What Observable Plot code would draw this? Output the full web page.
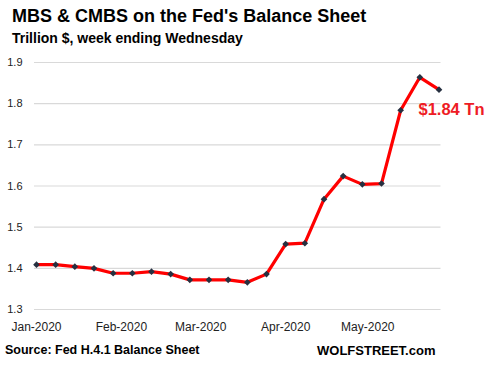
<!DOCTYPE html>
<html>
<head>
<meta charset="utf-8">
<script src="https://cdn.jsdelivr.net/npm/d3@7"></script>
<script src="https://cdn.jsdelivr.net/npm/@observablehq/plot@0.6"></script>
<style>
  html, body { margin: 0; padding: 0; background: #fff; }
  body { width: 489px; height: 368px; position: relative; overflow: hidden; font-family: "Liberation Sans", Arial, sans-serif; }
  .t { position: absolute; white-space: nowrap; font-weight: bold; color: #000; line-height: 1; }
  #chart { position: absolute; left: 0; top: 50px; }
</style>
</head>
<body>
<div class="t" id="title" style="left:12px; top:7px; font-size:18px;">MBS &amp; CMBS on the Fed's Balance Sheet</div>
<div class="t" id="subtitle" style="left:12px; top:31px; font-size:14px;">Trillion $, week ending Wednesday</div>
<div id="chart"></div>
<div class="t" id="source" style="left:5px; top:344px; font-size:12.5px;">Source: Fed H.4.1 Balance Sheet</div>
<div class="t" id="brand" style="left:317px; top:344px; font-size:13px;">WOLFSTREET.com</div>
<script>
// Week ending Wednesday, 2020
const weeks = [
  "2020-01-01","2020-01-08","2020-01-15","2020-01-22","2020-01-29",
  "2020-02-05","2020-02-12","2020-02-19","2020-02-26",
  "2020-03-04","2020-03-11","2020-03-18","2020-03-25",
  "2020-04-01","2020-04-08","2020-04-15","2020-04-22","2020-04-29",
  "2020-05-06","2020-05-13","2020-05-20","2020-05-27"
];
// MBS & CMBS, trillion $
const values = [
  1.409, 1.409, 1.404, 1.400, 1.388,
  1.388, 1.392, 1.386, 1.372,
  1.372, 1.372, 1.366, 1.386,
  1.459, 1.461, 1.568, 1.624, 1.604,
  1.606, 1.784, 1.864, 1.834
];
const yTicks = [1.3, 1.4, 1.5, 1.6, 1.7, 1.8, 1.9];
const xTicks = ["2020-01-01","2020-02-01","2020-03-01","2020-04-01","2020-05-01"];
const annotation = "$1.84 Tn";

const parse = d3.utcParse("%Y-%m-%d");
const data = weeks.map((w, i) => ({date: parse(w), value: values[i]}));
const last = data[data.length - 1];
const fmt = d3.utcFormat("%b-%Y");

const chart = Plot.plot({
  width: 489,
  height: 290,
  marginLeft: 36,
  marginRight: 50.5,
  marginTop: 12,
  marginBottom: 31,
  style: {fontFamily: "'Liberation Sans', Arial, sans-serif", color: "#222", background: "#fff", overflow: "visible"},
  x: {type: "utc", domain: [data[0].date, last.date], ticks: xTicks.map(parse), tickFormat: fmt, tickSize: 0, tickPadding: 13, label: null},
  y: {domain: [1.3, 1.9], ticks: yTicks, tickFormat: d3.format(".1f"), tickSize: 0, tickPadding: 14, label: null},
  marks: [
    Plot.ruleY(yTicks, {stroke: "#d9d9d9", strokeWidth: 1.2, insetLeft: -2, insetRight: -2}),
    Plot.axisX({ticks: xTicks.map(parse), tickFormat: fmt, tickSize: 0, tickPadding: 13, fontSize: 12, fill: "#222"}),
    Plot.axisY({ticks: yTicks, tickFormat: d3.format(".1f"), tickSize: 0, tickPadding: 14, fontSize: 11, fill: "#222"}),
    Plot.line(data, {x: "date", y: "value", stroke: "#ff0000", strokeWidth: 3.2, strokeLinejoin: "round"}),
    Plot.dot(data, {x: "date", y: "value", symbol: "diamond2", r: 3, fill: "#263040", stroke: "none"}),
    Plot.text([last], {x: "date", y: "value", text: () => annotation, dx: -20.5, dy: 20, textAnchor: "start", fill: "#ee1c25", fontSize: 16.5, fontWeight: "bold"})
  ]
});
document.getElementById("chart").appendChild(chart);
</script>
</body>
</html>
